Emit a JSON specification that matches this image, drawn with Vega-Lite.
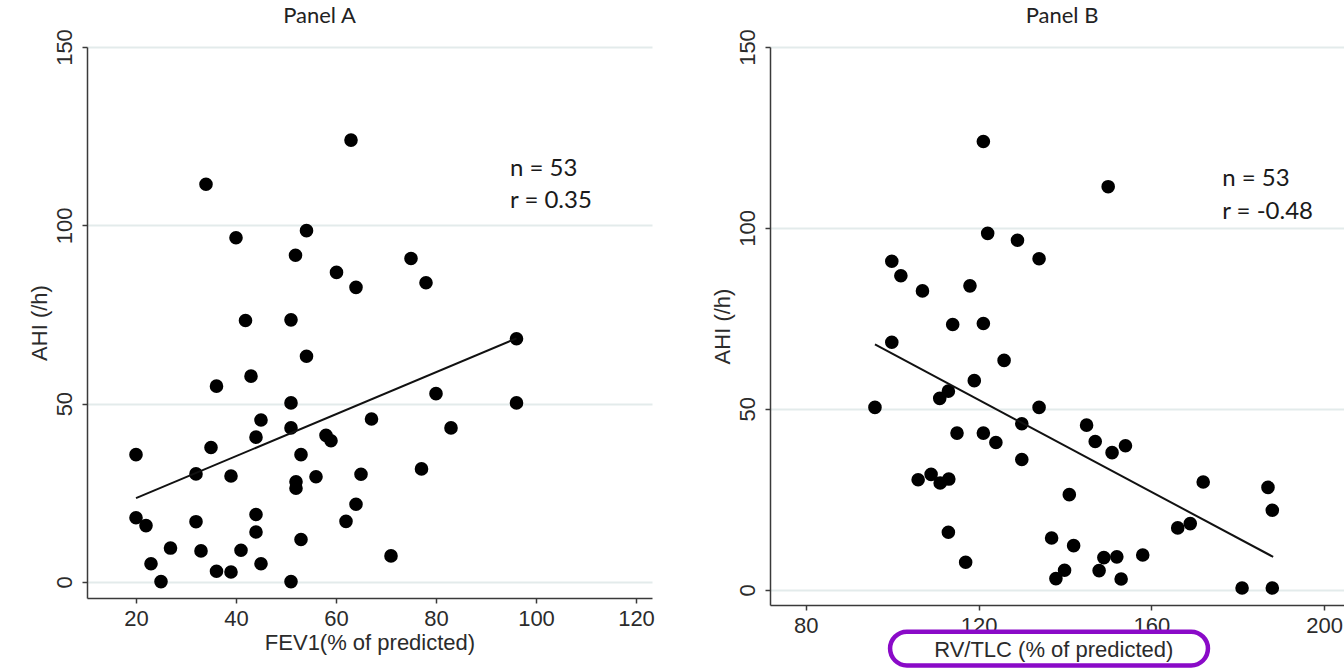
{
  "$schema": "https://vega.github.io/schema/vega-lite/v6.json",
  "padding": {"left": 28, "top": 4, "right": 0, "bottom": 0},
  "spacing": 56,
  "background": "white",
  "datasets": {
    "panelA": [
      {"fev1": 63.0, "ahi": 123.9}, {"fev1": 34.0, "ahi": 111.5}, {"fev1": 40.0, "ahi": 96.5}, {"fev1": 54.1, "ahi": 98.5},
      {"fev1": 51.9, "ahi": 91.6}, {"fev1": 60.1, "ahi": 86.8}, {"fev1": 64.0, "ahi": 82.6}, {"fev1": 75.0, "ahi": 90.7},
      {"fev1": 78.0, "ahi": 83.9}, {"fev1": 41.9, "ahi": 73.3}, {"fev1": 51.0, "ahi": 73.5}, {"fev1": 54.1, "ahi": 63.3},
      {"fev1": 96.1, "ahi": 68.2}, {"fev1": 43.0, "ahi": 57.7}, {"fev1": 36.1, "ahi": 54.9}, {"fev1": 80.0, "ahi": 52.8},
      {"fev1": 51.0, "ahi": 50.2}, {"fev1": 96.1, "ahi": 50.2}, {"fev1": 45.0, "ahi": 45.4}, {"fev1": 67.1, "ahi": 45.7},
      {"fev1": 51.0, "ahi": 43.2}, {"fev1": 83.0, "ahi": 43.2}, {"fev1": 44.0, "ahi": 40.6}, {"fev1": 58.0, "ahi": 41.1},
      {"fev1": 59.0, "ahi": 39.6}, {"fev1": 35.0, "ahi": 37.7}, {"fev1": 20.0, "ahi": 35.7}, {"fev1": 53.0, "ahi": 35.7},
      {"fev1": 32.0, "ahi": 30.3}, {"fev1": 39.0, "ahi": 29.7}, {"fev1": 56.0, "ahi": 29.5}, {"fev1": 65.0, "ahi": 30.2},
      {"fev1": 77.1, "ahi": 31.7}, {"fev1": 52.0, "ahi": 28.1}, {"fev1": 52.0, "ahi": 26.3}, {"fev1": 64.0, "ahi": 21.8},
      {"fev1": 20.0, "ahi": 18.0}, {"fev1": 44.0, "ahi": 18.9}, {"fev1": 22.0, "ahi": 15.8}, {"fev1": 32.0, "ahi": 16.9},
      {"fev1": 62.0, "ahi": 17.0}, {"fev1": 44.0, "ahi": 14.0}, {"fev1": 53.0, "ahi": 11.9}, {"fev1": 26.9, "ahi": 9.5},
      {"fev1": 33.0, "ahi": 8.7}, {"fev1": 41.0, "ahi": 8.9}, {"fev1": 71.0, "ahi": 7.3}, {"fev1": 23.0, "ahi": 5.1},
      {"fev1": 45.0, "ahi": 5.1}, {"fev1": 36.1, "ahi": 3.0}, {"fev1": 39.0, "ahi": 2.8}, {"fev1": 25.0, "ahi": 0.1},
      {"fev1": 51.0, "ahi": 0.1}
    ],
    "fitA": [{"fev1": 20.0, "ahi": 23.5}, {"fev1": 96.1, "ahi": 68.3}],
    "panelB": [
      {"rvtlc": 121.1, "ahi": 123.9}, {"rvtlc": 150.0, "ahi": 111.4}, {"rvtlc": 122.1, "ahi": 98.5}, {"rvtlc": 129.0, "ahi": 96.6},
      {"rvtlc": 134.0, "ahi": 91.5}, {"rvtlc": 99.9, "ahi": 90.8}, {"rvtlc": 102.0, "ahi": 86.8}, {"rvtlc": 107.0, "ahi": 82.6},
      {"rvtlc": 118.0, "ahi": 84.0}, {"rvtlc": 114.0, "ahi": 73.3}, {"rvtlc": 121.1, "ahi": 73.6}, {"rvtlc": 125.9, "ahi": 63.4},
      {"rvtlc": 99.9, "ahi": 68.4}, {"rvtlc": 119.0, "ahi": 57.8}, {"rvtlc": 113.0, "ahi": 54.9}, {"rvtlc": 111.0, "ahi": 52.9},
      {"rvtlc": 96.0, "ahi": 50.4}, {"rvtlc": 134.0, "ahi": 50.4}, {"rvtlc": 130.0, "ahi": 45.9}, {"rvtlc": 145.0, "ahi": 45.5},
      {"rvtlc": 115.0, "ahi": 43.3}, {"rvtlc": 121.1, "ahi": 43.3}, {"rvtlc": 124.0, "ahi": 40.7}, {"rvtlc": 147.0, "ahi": 41.0},
      {"rvtlc": 154.0, "ahi": 39.8}, {"rvtlc": 150.9, "ahi": 37.9}, {"rvtlc": 130.0, "ahi": 36.0}, {"rvtlc": 106.0, "ahi": 30.4},
      {"rvtlc": 109.0, "ahi": 31.9}, {"rvtlc": 111.1, "ahi": 29.5}, {"rvtlc": 113.1, "ahi": 30.6}, {"rvtlc": 172.0, "ahi": 29.8},
      {"rvtlc": 187.0, "ahi": 28.3}, {"rvtlc": 141.0, "ahi": 26.3}, {"rvtlc": 188.0, "ahi": 22.0}, {"rvtlc": 169.0, "ahi": 18.3},
      {"rvtlc": 166.1, "ahi": 17.1}, {"rvtlc": 113.0, "ahi": 15.9}, {"rvtlc": 136.9, "ahi": 14.3}, {"rvtlc": 142.0, "ahi": 12.2},
      {"rvtlc": 158.0, "ahi": 9.6}, {"rvtlc": 149.0, "ahi": 8.9}, {"rvtlc": 152.0, "ahi": 9.1}, {"rvtlc": 117.0, "ahi": 7.6},
      {"rvtlc": 139.9, "ahi": 5.4}, {"rvtlc": 147.9, "ahi": 5.3}, {"rvtlc": 137.9, "ahi": 3.1}, {"rvtlc": 153.0, "ahi": 3.0},
      {"rvtlc": 181.0, "ahi": 0.5}, {"rvtlc": 188.0, "ahi": 0.5}
    ],
    "fitB": [{"rvtlc": 96.0, "ahi": 67.8}, {"rvtlc": 188.2, "ahi": 9.1}]
  },
  "config": {
    "view": {"stroke": null},
    "axis": {
      "domainColor": "#3a3a3a", "domainWidth": 1.5,
      "tickColor": "#3a3a3a", "tickWidth": 1.5, "tickSize": 5,
      "labelFont": "Liberation Sans", "labelFontSize": 22, "labelColor": "#2b2b2b",
      "titleFont": "Liberation Sans", "titleFontSize": 22, "titleFontWeight": "normal", "titleColor": "#2b2b2b",
      "gridColor": "#e3ebeb", "gridWidth": 2
    },
    "axisX": {"grid": false, "labelPadding": 5, "titlePadding": 3, "labelFlush": false},
    "axisY": {"labelAngle": -90, "labelAlign": "center", "labelBaseline": "bottom", "labelPadding": 6, "titlePadding": 2},
    "title": {"font": "Lato", "fontSize": 22, "fontWeight": "normal", "color": "#222222", "offset": 1}
  },
  "hconcat": [
    {
      "width": 565,
      "height": 551,
      "title": {"text": "Panel A", "dx": -50},
      "layer": [
        {
          "data": {"name": "panelA"},
          "mark": {"type": "circle", "size": 185, "opacity": 1, "color": "#000000"},
          "encoding": {
            "x": {"field": "fev1", "type": "quantitative", "title": "FEV1(% of predicted)",
                  "scale": {"domain": [10.2, 123.2], "nice": false, "zero": false},
                  "axis": {"values": [20, 40, 60, 80, 100, 120]}},
            "y": {"field": "ahi", "type": "quantitative", "title": "AHI (/h)",
                  "scale": {"domain": [-4.5, 150], "nice": false, "zero": false},
                  "axis": {"values": [0, 50, 100, 150], "grid": true}}
          }
        },
        {
          "data": {"name": "fitA"},
          "mark": {"type": "line", "color": "#111111", "strokeWidth": 2},
          "encoding": {
            "x": {"field": "fev1", "type": "quantitative"},
            "y": {"field": "ahi", "type": "quantitative"}
          }
        },
        {
          "data": {"values": [{"note": "stats"}]},
          "mark": {"type": "text", "font": "Lato", "fontSize": 24, "align": "left", "baseline": "middle", "lineHeight": 32, "color": "#1a1a1a"},
          "encoding": {
            "x": {"datum": 94.8},
            "y": {"datum": 115.7},
            "text": {"value": ["n = 53", "r = 0.35"]}
          }
        }
      ]
    },
    {
      "width": 574,
      "height": 558,
      "title": {"text": "Panel B", "dx": 5},
      "layer": [
        {
          "data": {"name": "panelB"},
          "mark": {"type": "circle", "size": 185, "opacity": 1, "color": "#000000"},
          "encoding": {
            "x": {"field": "rvtlc", "type": "quantitative", "title": null,
                  "scale": {"domain": [71.7, 204.6], "nice": false, "zero": false},
                  "axis": {"values": [80, 120, 160, 200]}},
            "y": {"field": "ahi", "type": "quantitative", "title": "AHI (/h)",
                  "scale": {"domain": [-4.2, 150], "nice": false, "zero": false},
                  "axis": {"values": [0, 50, 100, 150], "grid": true}}
          }
        },
        {
          "data": {"name": "fitB"},
          "mark": {"type": "line", "color": "#111111", "strokeWidth": 2},
          "encoding": {
            "x": {"field": "rvtlc", "type": "quantitative"},
            "y": {"field": "ahi", "type": "quantitative"}
          }
        },
        {
          "data": {"values": [{"note": "stats"}]},
          "mark": {"type": "text", "font": "Lato", "fontSize": 24, "align": "left", "baseline": "middle", "lineHeight": 33, "color": "#1a1a1a"},
          "encoding": {
            "x": {"datum": 176.4},
            "y": {"datum": 113.4},
            "text": {"value": ["n = 53", "r = -0.48"]}
          }
        },
        {
          "data": {"values": [{"note": "highlight"}]},
          "mark": {"type": "rect", "fill": "white", "stroke": "#8A0AC8", "strokeWidth": 4.5, "cornerRadius": 17, "clip": false},
          "encoding": {
            "x": {"datum": 99.5},
            "x2": {"datum": 173.1},
            "y": {"datum": -11.6},
            "y2": {"datum": -20.9}
          }
        },
        {
          "data": {"values": [{"label": "RV/TLC (% of predicted)"}]},
          "mark": {"type": "text", "font": "Liberation Sans", "fontSize": 22, "align": "center", "baseline": "middle", "color": "#2b2b2b", "clip": false},
          "encoding": {
            "x": {"datum": 137.4},
            "y": {"datum": -16.6},
            "text": {"field": "label"}
          }
        }
      ]
    }
  ]
}
